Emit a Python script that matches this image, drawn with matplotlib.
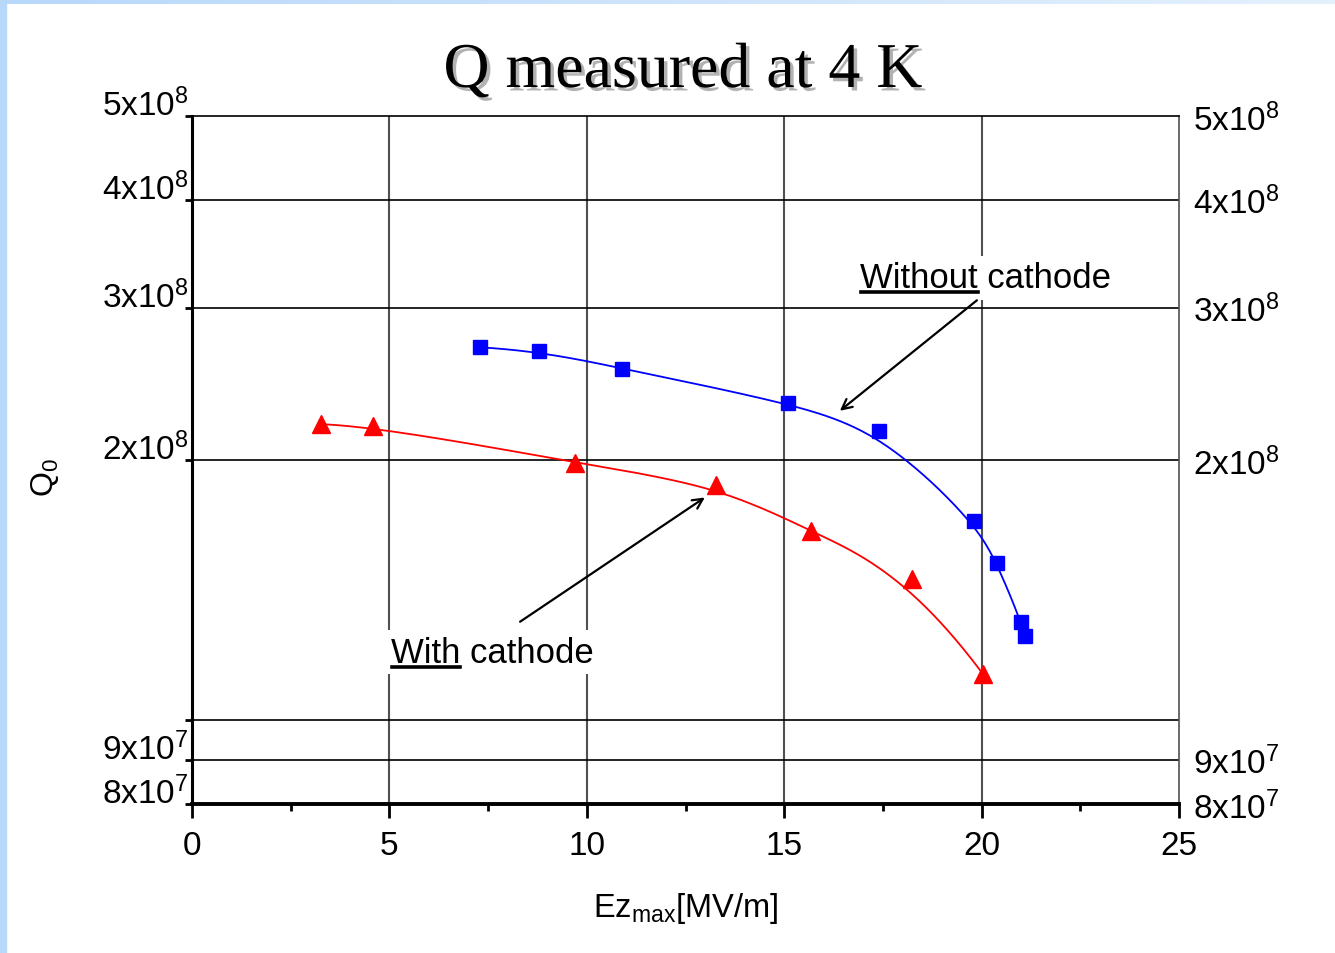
import numpy as np
import matplotlib
matplotlib.use("Agg")
import matplotlib.pyplot as plt
import matplotlib.patheffects as pe
import matplotlib.transforms as mtransforms
from matplotlib.lines import Line2D
from matplotlib.ticker import FixedLocator, NullFormatter

plt.rcParams['font.family'] = ['Liberation Sans', 'DejaVu Sans']
plt.rcParams['mathtext.fontset'] = 'custom'
plt.rcParams['mathtext.rm'] = 'Liberation Sans'
plt.rcParams['mathtext.default'] = 'regular'

# data
ez_without = [7.3, 8.8, 10.9, 15.1, 17.4, 19.8, 20.4, 21.0, 21.1]
q_without = [2.70e8, 2.675e8, 2.55e8, 2.33e8, 2.16e8, 1.70e8, 1.52e8, 1.30e8, 1.25e8]
ez_with = [3.27, 4.58, 9.70, 13.27, 15.68, 18.24, 20.04]
q_with = [2.20e8, 2.19e8, 1.985e8, 1.87e8, 1.656e8, 1.457e8, 1.13e8]

y_ticks = [8e7, 9e7, 1e8, 2e8, 3e8, 4e8, 5e8]
y_labels = ['8x10$^7$', '9x10$^7$', '', '2x10$^8$', '3x10$^8$', '4x10$^8$', '5x10$^8$']
x_ticks = [0, 5, 10, 15, 20, 25]

LBL = 24


def bspline(xs, ys, k=3, num=400):
    # clamped uniform B-spline, data points used as control points
    P = np.column_stack([xs, ys])
    m = len(P)
    knots = np.r_[np.zeros(k), np.linspace(0, 1, m - k + 1), np.ones(k)]
    t = np.linspace(0, 1, num)
    N = np.zeros((num, len(knots) - 1))
    for i in range(len(knots) - 1):
        N[:, i] = (t >= knots[i]) & (t < knots[i + 1])
    N[-1, m - 1] = 1
    for d in range(1, k + 1):
        Nn = np.zeros((num, len(knots) - 1 - d))
        for i in range(len(knots) - 1 - d):
            a = knots[i + d] - knots[i]
            b = knots[i + d + 1] - knots[i + 1]
            term = np.zeros(num)
            if a > 0:
                term += (t - knots[i]) / a * N[:, i]
            if b > 0:
                term += (knots[i + d + 1] - t) / b * N[:, i + 1]
            Nn[:, i] = term
        N = Nn
    C = N @ P
    return C[:, 0], 10 ** C[:, 1]


fig = plt.figure(figsize=(13.35, 9.54), dpi=100)

# slide decoration: light blue bands on left and top
bg = fig.add_axes([0, 0, 1, 1], zorder=-10)
bg.axis('off')
grad = np.linspace(0, 1, 256).reshape(1, -1)
bg.imshow(grad, extent=[0, 1, 0.9948, 1], aspect='auto',
          cmap=matplotlib.colors.LinearSegmentedColormap.from_list('b', ['#b8d8fa', '#e4f0fc']))
bg.add_patch(plt.Rectangle((0, 0), 0.0045, 1, color='#b8d8fa'))
bg.set_xlim(0, 1)
bg.set_ylim(0, 1)

ax = fig.add_axes([192 / 1335, 1 - 805 / 954, 987 / 1335, 688 / 954])
ax.set_yscale('log')
ax.set_xlim(0, 25)
ax.set_ylim(8e7, 5e8)

# grid
for x in [5, 10, 15, 20]:
    ax.axvline(x, color='#505050', lw=1.5, zorder=1)
for y in [9e7, 1e8, 2e8, 3e8, 4e8]:
    ax.axhline(y, color='black', lw=1.2, zorder=1)

xb, yb = bspline(ez_without, np.log10(q_without))
ax.plot(xb, yb, color='blue', lw=1.3, zorder=3)
xr, yr = bspline(ez_with, np.log10(q_with))
ax.plot(xr, yr, color='red', lw=1.3, zorder=3)
ax.plot(ez_without, q_without, 's', color='blue', ms=10, mec='blue', zorder=4)
ax.plot(ez_with, q_with, '^', color='red', ms=13, mec='red', zorder=4)

# spines
ax.spines['left'].set_linewidth(2.2)
ax.spines['bottom'].set_linewidth(2.8)
ax.spines['top'].set_linewidth(1.2)
ax.spines['right'].set_linewidth(1.2)
ax.spines['right'].set_color('#505050')

ax.yaxis.set_major_locator(FixedLocator(y_ticks))
ax.yaxis.set_minor_locator(FixedLocator([]))
ax.yaxis.set_minor_formatter(NullFormatter())
ax.set_yticklabels(y_labels)
ax.tick_params(axis='y', which='major', direction='out', length=5, width=2,
               labelsize=LBL, pad=5, right=False, labelright=True, labelleft=False)

# left labels sit a little above their ticks
left_tr = mtransforms.blended_transform_factory(ax.transAxes, ax.transData) + \
    mtransforms.ScaledTranslation(0, 10.5 / 72, fig.dpi_scale_trans)
for val, lab in zip(y_ticks, y_labels):
    if lab:
        ax.text(-0.003, val, lab, transform=left_tr, fontsize=LBL,
                ha='right', va='center_baseline', clip_on=False)

ax.set_xticks(x_ticks)
ax.set_xticks([2.5, 7.5, 12.5, 17.5, 22.5], minor=True)
ax.tick_params(axis='x', which='major', direction='out', length=10, width=2,
               labelsize=LBL, pad=9)
ax.tick_params(axis='x', which='minor', direction='out', length=5, width=2)

# annotations
font_kw = dict(fontsize=25, va='baseline', ha='left', zorder=6,
               bbox=dict(facecolor='white', edgecolor='none', pad=4))
ax.text(16.92, 3.17e8, 'Without cathode', **font_kw)
ax.text(5.04, 1.168e8, 'With cathode', **font_kw)
arrow_kw = dict(arrowstyle='->', lw=1.6, color='black', shrinkA=0, shrinkB=0,
                mutation_scale=18)
ax.annotate('', xy=(16.41, 2.28e8), xytext=(19.88, 3.06e8), arrowprops=arrow_kw, zorder=7)
ax.annotate('', xy=(12.99, 1.81e8), xytext=(8.31, 1.30e8), arrowprops=arrow_kw, zorder=7)

# underline the first word
fig.canvas.draw()
r = fig.canvas.get_renderer()
for x0, y0, word in [(16.92, 3.17e8, 'Without'), (5.04, 1.168e8, 'With')]:
    tmp = ax.text(x0, y0, word, fontsize=25, va='baseline', ha='left')
    bb = tmp.get_window_extent(r)
    tmp.remove()
    base = ax.transData.transform((x0, y0))[1]
    inv = ax.transAxes.inverted()
    (ax0, ay), (ax1, _) = inv.transform([(bb.x0 + 1, base - 5), (bb.x1, base - 5)])
    ax.add_line(Line2D([ax0, ax1], [ay, ay], transform=ax.transAxes, color='black',
                       lw=2.6, zorder=8, clip_on=False))

# titles and labels
fig.text(683 / 1335, 1 - 88 / 954, 'Q measured at 4 K', family='Liberation Serif',
         fontsize=46, ha='center', va='baseline',
         path_effects=[pe.SimplePatchShadow(offset=(2.5, -2.5), shadow_rgbFace='#808080', alpha=0.6),
                       pe.Normal()])
fig.text(686 / 1335, 1 - 917 / 954, 'Ez$_{max}$[MV/m]', fontsize=23.5, ha='center', va='baseline')
fig.text(45 / 1335, 1 - 478 / 954, 'Q$_0$', fontsize=23, rotation=90, ha='center', va='center')

fig.savefig('out.png', dpi=100, facecolor='white')
